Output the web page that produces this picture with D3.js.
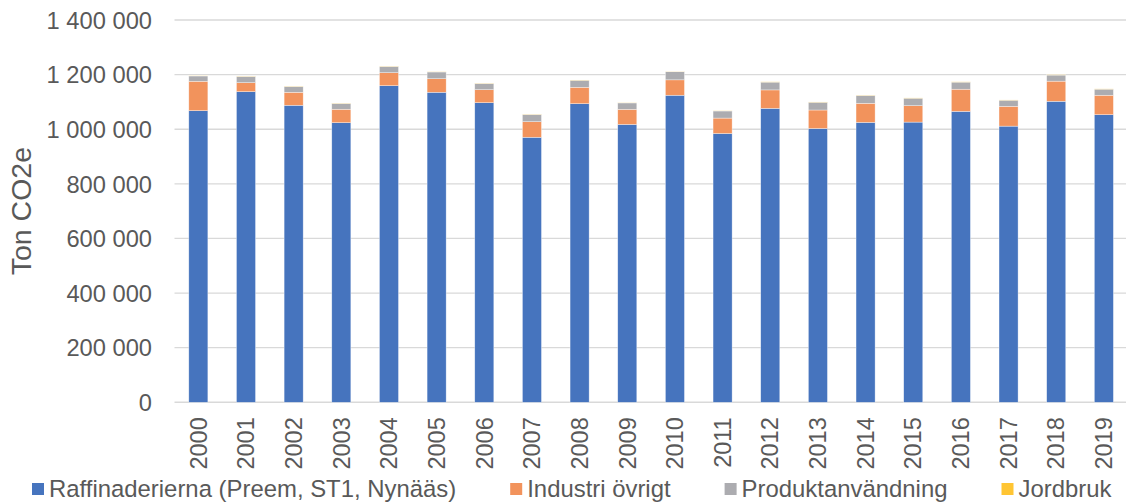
<!DOCTYPE html>
<html>
<head>
<meta charset="utf-8">
<script src="https://cdn.jsdelivr.net/npm/d3@7"></script>
<style>
  html, body { margin: 0; padding: 0; background: #fff; }
  svg { display: block; font-family: "Liberation Sans", Arial, sans-serif; }
</style>
</head>
<body>
<svg id="chart" width="1126" height="504"></svg>
<script>
const years = ["2000","2001","2002","2003","2004","2005","2006","2007","2008","2009",
               "2010","2011","2012","2013","2014","2015","2016","2017","2018","2019"];
const seriesNames = ["Raffinaderierna (Preem, ST1, Nynääs)", "Industri övrigt", "Produktanvändning", "Jordbruk"];
const raffinaderierna = [1068000,1137500,1087700,1024000,1159400,1135300,1097200,970500,1093500,1017500,
                         1124400,984300,1076400,1002700,1025000,1026100,1065400,1011300,1102300,1053200];
const industriOvrigt  = [107600,32900,47600,49100,47600,49700,47600,57100,60100,55300,
                         56500,56500,67600,67700,69900,60200,81100,72500,73700,71200];
const produktanvandning = [19500,22500,20900,21000,22500,24700,22400,26100,25700,23600,
                           29700,26100,28500,28400,28500,27300,26000,22400,22300,22300];
const jordbruk = [1000,1000,1000,1000,1000,1000,1000,1000,1000,1000,
                  1000,1000,1000,1000,1000,1000,1000,1000,1000,1000];
const yTicks = [0,200000,400000,600000,800000,1000000,1200000,1400000];
const yTitle = "Ton CO2e";
const colors = ["#4674be", "#f2935c", "#acacb0", "#ffc533"];

const svg = d3.select("#chart");
const W = 1126, H = 504;
const x0 = 174.5, x1 = 1127.7, yTop = 20, yBot = 402.3;

const x = d3.scaleBand().domain(years).range([x0, x1]).paddingInner(0.6).paddingOuter(0.3);
const y = d3.scaleLinear().domain([0, 1400000]).range([yBot, yTop]);

const fmt = v => d3.format(",")(v).replace(/,/g, " ");

// gridlines
svg.append("g").selectAll("line").data(yTicks).join("line")
  .attr("x1", x0).attr("x2", W)
  .attr("y1", d => y(d)).attr("y2", d => y(d))
  .attr("stroke", "#d9d9d9").attr("stroke-width", d => d === 0 ? 1.6 : 1.3);

// y tick labels
const yAxis = d3.axisLeft(y).tickValues(yTicks).tickFormat(fmt).tickSize(0).tickPadding(0);
const yg = svg.append("g").attr("transform", `translate(152,0)`).call(yAxis);
yg.select(".domain").remove();
yg.selectAll("text").attr("font-size", "23.7px").attr("fill", "#595959")
  .attr("font-family", "Liberation Sans, Arial, sans-serif").attr("dy", "0.35em");

// y title
svg.append("text")
  .attr("transform", `translate(31,${(yTop + yBot) / 2}) rotate(-90)`)
  .attr("text-anchor", "middle")
  .attr("font-size", "28.5px").attr("fill", "#595959")
  .text(yTitle);

// stacked bars
const rows = years.map((yr, i) => ({
  year: yr,
  s0: raffinaderierna[i], s1: industriOvrigt[i], s2: produktanvandning[i], s3: jordbruk[i]
}));
const stack = d3.stack().keys(["s0","s1","s2","s3"]);
const stacked = stack(rows);

svg.append("g").selectAll("g").data(stacked).join("g")
  .attr("fill", (d, i) => colors[i])
  .selectAll("rect").data(d => d).join("rect")
  .attr("x", d => x(d.data.year))
  .attr("width", x.bandwidth())
  .attr("y", d => y(d[1]))
  .attr("height", d => Math.max(0, y(d[0]) - y(d[1])))
  .attr("stroke", "#ffffff").attr("stroke-width", 0.6).attr("stroke-opacity", 0.6);

// x tick labels (rotated)
const xAxis = d3.axisBottom(x).tickSize(0).tickPadding(0);
const xg = svg.append("g").attr("transform", `translate(0,${yBot})`).call(xAxis);
xg.select(".domain").remove();
xg.selectAll("text")
  .attr("font-size", "23.5px").attr("fill", "#595959")
  .attr("transform", "rotate(-90)")
  .attr("text-anchor", "end")
  .attr("x", -15).attr("y", 0).attr("dy", "0.35em");

// legend
const leg = svg.append("g");
let lx = 32;
seriesNames.forEach((name, i) => {
  leg.append("rect").attr("x", lx).attr("y", 483).attr("width", 12).attr("height", 12)
    .attr("fill", colors[i]);
  const t = leg.append("text").attr("x", lx + 17).attr("y", 497)
    .attr("font-size", "23.9px").attr("fill", "#595959").text(name);
  const w = t.node().getComputedTextLength();
  lx = lx + 17 + w + 54;
});
</script>
</body>
</html>
